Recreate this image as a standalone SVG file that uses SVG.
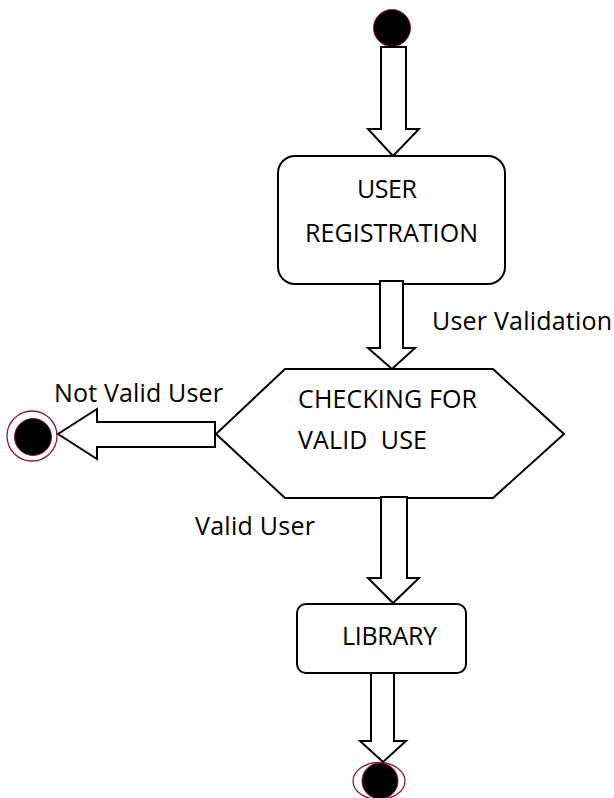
<svg xmlns="http://www.w3.org/2000/svg" width="614" height="798" viewBox="0 0 614 798">
<style>
.shape{fill:#fff;stroke:#000;stroke-width:2}
.arrow{fill:#fff;stroke:#000;stroke-width:2;stroke-linejoin:miter}
.dot{fill:#000;stroke:#8b1a3a;stroke-width:1}
.ring{fill:#fff;stroke:#8b1a3a;stroke-width:1.3}
text{font-family:"Open Sans","Liberation Sans",sans-serif;font-size:25px;fill:#000;white-space:pre}
</style>
<rect width="614" height="798" fill="#fff"/>
<g id="start">
<circle class="dot" cx="392" cy="28" r="18.5"/>
</g>
<g id="user-registration">
<rect class="shape" x="278" y="156" width="227" height="128" rx="17" ry="17"/>
<text x="357" y="198" textLength="60">USER</text>
<text x="305" y="242" textLength="173">REGISTRATION</text>
</g>
<g id="checking">
<polygon class="shape" points="285,369 493,369 564,434 493,498 285,498 216,434"/>
<text x="298" y="408" textLength="179">CHECKING FOR</text>
<text x="298" y="449" textLength="129">VALID  USE</text>
</g>
<g id="library">
<rect class="shape" x="297" y="604" width="169" height="69" rx="9" ry="9"/>
<text x="342" y="645" textLength="95">LIBRARY</text>
</g>
<g id="end-invalid">
<circle class="ring" cx="32" cy="436" r="25"/>
<circle class="dot" cx="33" cy="437" r="18.5"/>
</g>
<g id="end-final">
<ellipse class="ring" cx="379" cy="781" rx="26" ry="18.5"/>
<circle class="dot" cx="380" cy="781" r="18"/>
</g>
<g id="connectors">
<path class="arrow" d="M381,47 L406,47 L406,129 L419,129 L393,156 L368,129 L381,129 Z"/>
<path class="arrow" d="M380,281 L403,281 L403,348 L415,348 L392,369 L368,348 L380,348 Z"/>
<path class="arrow" d="M215,422 L215,447 L97,447 L97,459 L58,434 L97,409 L97,422 Z"/>
<path class="arrow" d="M381,497 L407,497 L407,578 L419,578 L393,603 L368,578 L381,578 Z"/>
<path class="arrow" d="M371,673 L394,673 L394,741 L406,741 L383,762 L360,741 L371,741 Z"/>
<text x="432" y="330" textLength="180">User Validation</text>
<text x="54" y="402" textLength="169">Not Valid User</text>
<text x="195" y="535" textLength="120">Valid User</text>
</g>
</svg>
